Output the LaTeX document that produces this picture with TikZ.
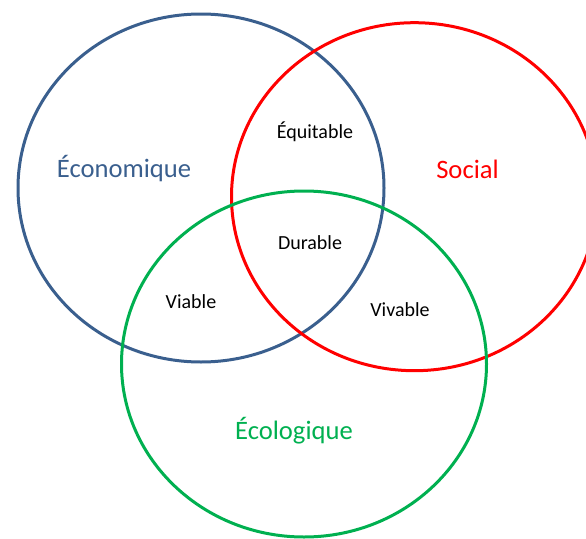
\documentclass[tikz,border=0pt]{standalone}
\usepackage{fontspec}
\setmainfont{Carlito}
\definecolor{ecoblue}{HTML}{3A5F8E}
\definecolor{socred}{HTML}{FF0000}
\definecolor{ecogreen}{HTML}{00B050}
\tikzset{
  ring/.style={line width=3pt},
  bigtext/.style={font=\fontsize{26.6}{30}\selectfont, anchor=base, inner sep=0pt},
  smalltext/.style={font=\fontsize{20}{23}\selectfont, anchor=base, inner sep=0pt, text=black}
}
\begin{document}
\begin{tikzpicture}[x=1pt,y=-1pt]
\useasboundingbox (0,0) rectangle (586,538);
\begin{scope}
\clip (0,0) rectangle (586,538);
\draw[ring, ecoblue] (201,188) ellipse [x radius=183, y radius=174];
\draw[ring, socred] (414.5,196.7) ellipse [x radius=183, y radius=174];
\draw[ring, ecogreen] (304,364) ellipse [x radius=182.5, y radius=173];
\end{scope}
\node[bigtext, text=ecoblue] (eco) at (124,177) {Économique};
\node[bigtext, text=socred] (soc) at (467.5,178) {Social};
\node[bigtext, text=ecogreen] (ecol) at (294,439) {Écologique};
\node[smalltext] (equi) at (315,138) {Équitable};
\node[smalltext] (dura) at (310,249) {Durable};
\node[smalltext] (viab) at (191,308) {Viable};
\node[smalltext] (viva) at (400,316.5) {Vivable};
\end{tikzpicture}
\end{document}
